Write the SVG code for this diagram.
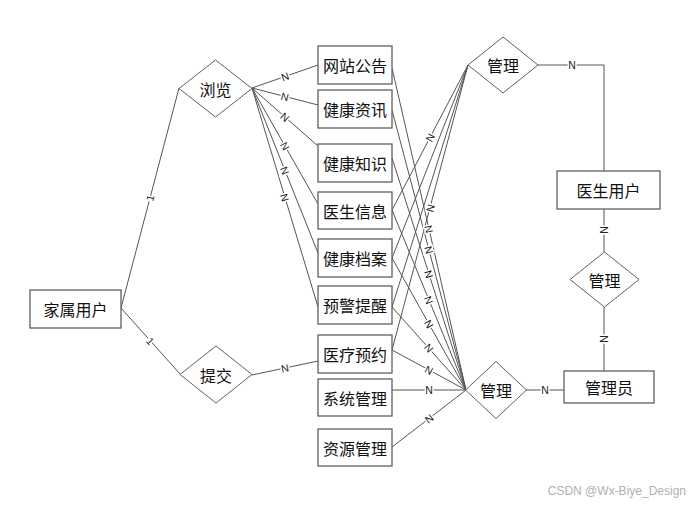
<svg xmlns="http://www.w3.org/2000/svg" width="691" height="505" viewBox="0 0 691 505">
<style>
.box{fill:#fff;stroke:#606060;stroke-width:1.3}
.dia{fill:#fff;stroke:#606060;stroke-width:1}
.ln{fill:none;stroke:#555;stroke-width:1}
.t{font-family:"Noto Sans CJK SC","Liberation Sans",sans-serif;font-size:16px;fill:#111;text-anchor:middle;dominant-baseline:central}
.lab{font-family:"Liberation Sans","DejaVu Sans",sans-serif;font-size:10.5px;fill:#222;text-anchor:middle;dominant-baseline:central;stroke:#fff;stroke-width:3;paint-order:stroke}
.wm{font-family:"Liberation Sans","DejaVu Sans",sans-serif;font-size:12px;fill:#b0b0b0;text-anchor:end}
</style>
<rect width="691" height="505" fill="#fff"/>
<g id="connectors">
<path class="ln" d="M121,308 L179,88"/>
<path class="ln" d="M121,308 L180,374"/>
<path class="ln" d="M252,88 L318,65"/>
<path class="ln" d="M252,88 L318,105"/>
<path class="ln" d="M252,88 L318,146"/>
<path class="ln" d="M252,88 L318,204"/>
<path class="ln" d="M252,88 L318,253"/>
<path class="ln" d="M252,88 L318,307"/>
<path class="ln" d="M252,375 L318,361"/>
<path class="ln" d="M392,68 L466,390"/>
<path class="ln" d="M392,110 L466,390"/>
<path class="ln" d="M392,158 L466,390"/>
<path class="ln" d="M392,210 L466,390"/>
<path class="ln" d="M392,258 L466,390"/>
<path class="ln" d="M392,307 L466,390"/>
<path class="ln" d="M392,350 L466,390"/>
<path class="ln" d="M392,390 L466,390"/>
<path class="ln" d="M392,447 L466,390"/>
<path class="ln" d="M392,210 L468,65"/>
<path class="ln" d="M392,258 L468,65"/>
<path class="ln" d="M392,307 L468,65"/>
<path class="ln" d="M392,350 L468,65"/>
<path class="ln" d="M538,65 L604,65 L604,171"/>
<path class="ln" d="M604,209 L604,252"/>
<path class="ln" d="M604,307 L604,371"/>
<path class="ln" d="M526,390 L564,390"/>
<text class="lab" transform="translate(150,198) rotate(-75)">1</text>
<text class="lab" transform="translate(150.5,341) rotate(48)">1</text>
<text class="lab" transform="translate(285,76.5) rotate(-19)">N</text>
<text class="lab" transform="translate(285,96.5) rotate(14)">N</text>
<text class="lab" transform="translate(285,117) rotate(41)">N</text>
<text class="lab" transform="translate(285,146) rotate(60)">N</text>
<text class="lab" transform="translate(285,170.5) rotate(68)">N</text>
<text class="lab" transform="translate(285,197.5) rotate(73)">N</text>
<text class="lab" transform="translate(285,368) rotate(-12)">N</text>
<text class="lab" transform="translate(429,229) rotate(77)">N</text>
<text class="lab" transform="translate(429,250) rotate(75)">N</text>
<text class="lab" transform="translate(429,274) rotate(72)">N</text>
<text class="lab" transform="translate(429,300) rotate(68)">N</text>
<text class="lab" transform="translate(429,324) rotate(61)">N</text>
<text class="lab" transform="translate(429,348) rotate(48)">N</text>
<text class="lab" transform="translate(429,370) rotate(28)">N</text>
<text class="lab" transform="translate(429,390)">N</text>
<text class="lab" transform="translate(429,418.5) rotate(-38)">N</text>
<text class="lab" transform="translate(430,137.5) rotate(-62)">N</text>
<text class="lab" transform="translate(430,208) rotate(-75)">N</text>
<text class="lab" transform="translate(572,65)">N</text>
<text class="lab" transform="translate(604,230) rotate(90)">N</text>
<text class="lab" transform="translate(604,339) rotate(90)">N</text>
<text class="lab" transform="translate(545,390)">N</text>
</g>
<g id="n_jiashu"><rect class="box" x="30" y="290" width="91" height="38"/><text class="t" x="75.5" y="309">家属用户</text></g>
<g id="d_liulan"><polygon class="dia" points="215.5,60 252,88.5 215.5,117 179,88.5"/><text class="t" x="215.5" y="88.5">浏览</text></g>
<g id="d_tijiao"><polygon class="dia" points="216,346 252,374.5 216,403 180,374.5"/><text class="t" x="216" y="374.5">提交</text></g>
<g id="n_gonggao"><rect class="box" x="318" y="46" width="74" height="38"/><text class="t" x="355" y="65">网站公告</text></g>
<g id="n_zixun"><rect class="box" x="318" y="90" width="74" height="38"/><text class="t" x="355" y="109">健康资讯</text></g>
<g id="n_zhishi"><rect class="box" x="318" y="144" width="74" height="38"/><text class="t" x="355" y="163">健康知识</text></g>
<g id="n_yisheng"><rect class="box" x="318" y="192" width="74" height="37"/><text class="t" x="355" y="210.5">医生信息</text></g>
<g id="n_dangan"><rect class="box" x="318" y="239" width="74" height="38"/><text class="t" x="355" y="258">健康档案</text></g>
<g id="n_yujing"><rect class="box" x="318" y="286" width="74" height="38"/><text class="t" x="355" y="305">预警提醒</text></g>
<g id="n_yuyue"><rect class="box" x="318" y="335" width="74" height="38"/><text class="t" x="355" y="354">医疗预约</text></g>
<g id="n_xitong"><rect class="box" x="318" y="379" width="74" height="37"/><text class="t" x="355" y="397.5">系统管理</text></g>
<g id="n_ziyuan"><rect class="box" x="318" y="429" width="74" height="37"/><text class="t" x="355" y="447.5">资源管理</text></g>
<g id="d_guanli_top"><polygon class="dia" points="503,37 538,65 503,93 468,65"/><text class="t" x="503" y="65">管理</text></g>
<g id="d_guanli_bottom"><polygon class="dia" points="496,361.5 526.5,390 496,418.5 465.5,390"/><text class="t" x="496" y="390">管理</text></g>
<g id="d_guanli_mid"><polygon class="dia" points="604.5,252 639,279.5 604.5,307 570,279.5"/><text class="t" x="604.5" y="279.5">管理</text></g>
<g id="n_yishengyonghu"><rect class="box" x="557" y="171" width="103" height="38"/><text class="t" x="608.5" y="190">医生用户</text></g>
<g id="n_guanliyuan"><rect class="box" x="564" y="371" width="90" height="32"/><text class="t" x="609" y="387">管理员</text></g>
<text class="wm" x="686" y="495">CSDN @Wx-Biye_Design</text>
</svg>
